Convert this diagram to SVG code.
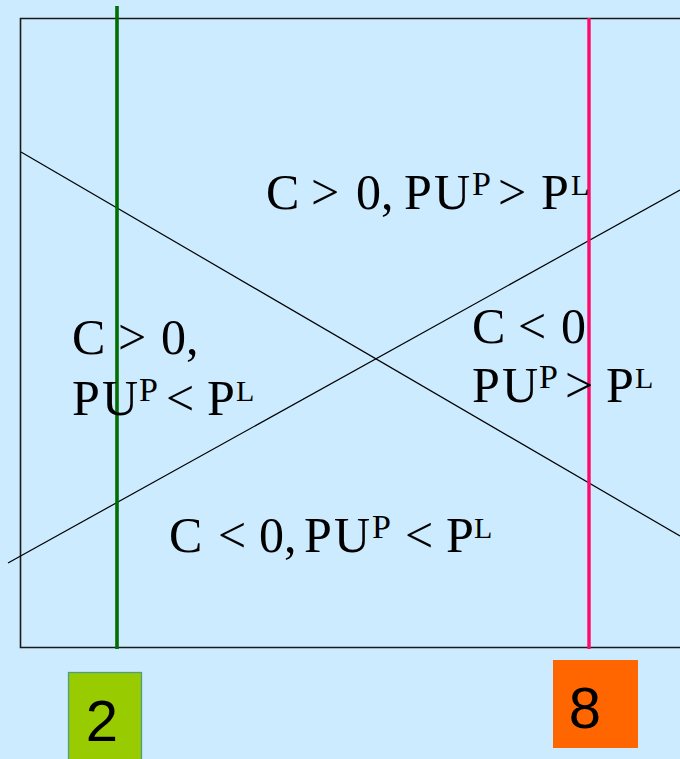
<svg xmlns="http://www.w3.org/2000/svg" width="680" height="759" viewBox="0 0 680 759">
<style>
.t{font-family:"Liberation Serif","Times New Roman",serif;font-size:50px;fill:#000}
.s{font-size:34px}
.l{font-size:30px}
.n{font-family:"Liberation Sans",Arial,sans-serif;font-size:58px;fill:#000;text-anchor:middle}
.frame{fill:none;stroke:#1a1a1a;stroke-width:1.6}
.diag{stroke:#000;stroke-width:1.2;fill:none}
</style>
<rect x="0" y="0" width="680" height="759" fill="#CCEBFF"/>
<g id="frame">
<polyline class="frame" points="681,18.5 20.5,18.5 20.5,647.5 681,647.5"/>
</g>
<g id="connectors">
<line class="diag" x1="21" y1="152" x2="680" y2="536"/>
<line class="diag" x1="8" y1="563" x2="680" y2="190"/>
<line id="green-line" x1="117" y1="6" x2="117" y2="649" stroke="#006E00" stroke-width="3.6"/>
<line id="pink-line" x1="589" y1="18" x2="589" y2="649" stroke="#FF0A6A" stroke-width="3.4"/>
</g>
<g id="label-top">
<text class="t" y="209"><tspan x="266">C</tspan><tspan x="311">&gt;</tspan><tspan x="356">0,</tspan><tspan x="404">P</tspan><tspan x="434">U</tspan><tspan class="s" x="472" y="195">P</tspan><tspan x="498" y="209">&gt;</tspan><tspan x="541">P</tspan><tspan class="l" x="571" y="195">L</tspan></text>
</g>
<g id="label-left">
<text class="t" y="354"><tspan x="72">C</tspan><tspan x="118">&gt;</tspan><tspan x="161">0,</tspan></text>
<text class="t" y="415"><tspan x="72">P</tspan><tspan x="102">U</tspan><tspan class="s" x="139" y="401">P</tspan><tspan x="166" y="415">&lt;</tspan><tspan x="207">P</tspan><tspan class="l" x="236" y="401">L</tspan></text>
</g>
<g id="label-right">
<text class="t" y="343"><tspan x="472">C</tspan><tspan x="518">&lt;</tspan><tspan x="561">0</tspan></text>
<text class="t" y="402"><tspan x="472">P</tspan><tspan x="502">U</tspan><tspan class="s" x="539" y="388">P</tspan><tspan x="565" y="402">&gt;</tspan><tspan x="606">P</tspan><tspan class="l" x="635" y="388">L</tspan></text>
</g>
<g id="label-bottom">
<text class="t" y="552"><tspan x="169">C</tspan><tspan x="218">&lt;</tspan><tspan x="259">0,</tspan><tspan x="304">P</tspan><tspan x="334">U</tspan><tspan class="s" x="372" y="538">P</tspan><tspan x="405" y="552">&lt;</tspan><tspan x="446">P</tspan><tspan class="l" x="474" y="538">L</tspan></text>
</g>
<g id="node-2">
<rect x="68.5" y="672.5" width="73" height="92" fill="#99CC00" stroke="#4E9D88" stroke-width="1.3"/>
<text class="n" x="102" y="741">2</text>
</g>
<g id="node-8">
<rect x="553" y="660" width="85" height="88" fill="#FF6600"/>
<text class="n" x="585" y="728">8</text>
</g>
</svg>
